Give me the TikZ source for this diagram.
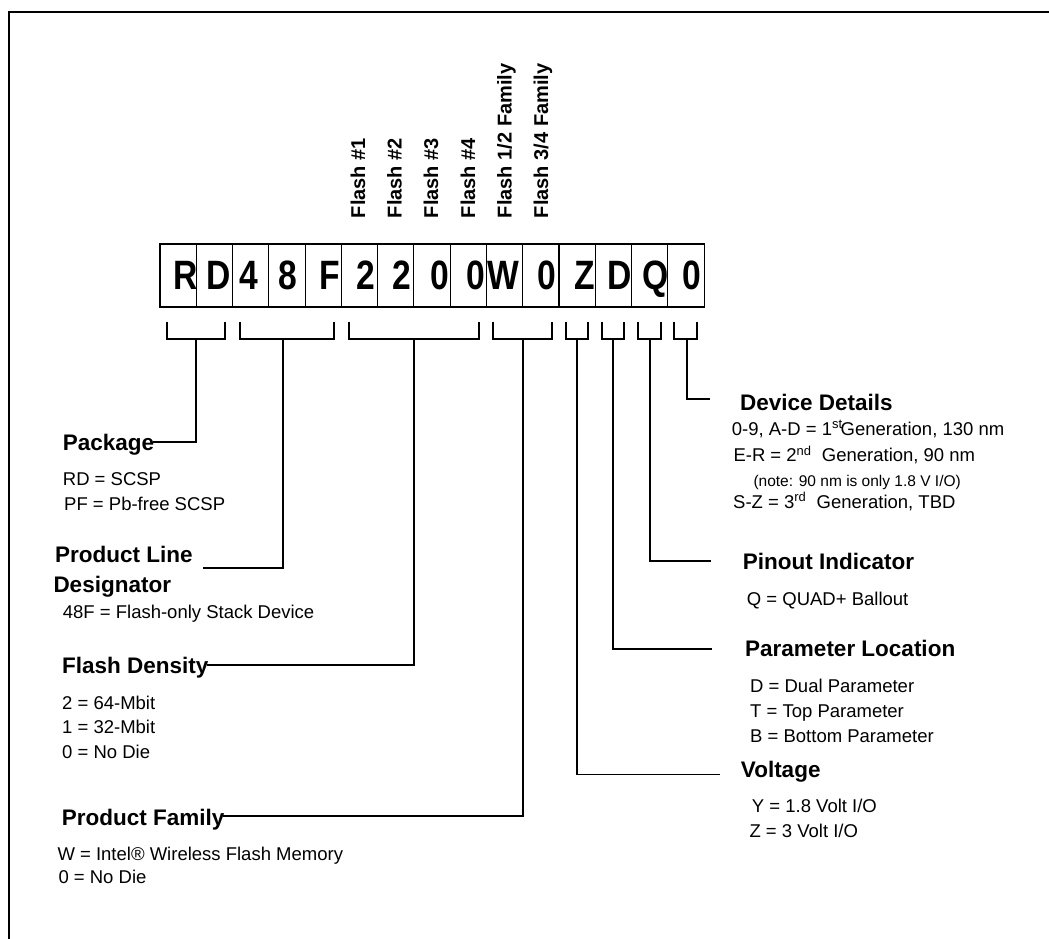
\documentclass[tikz,border=0pt]{standalone}
\usepackage{fontspec}
\setmainfont{Liberation Sans}
\begin{document}
\begin{tikzpicture}[x=1pt,y=-1pt,
  cell/.style={draw,line width=1.1pt,minimum width=36.27pt,minimum height=63pt,inner sep=0pt},
  ltr/.style={anchor=base,inner sep=0pt,font=\bfseries\fontsize{41}{45}\selectfont},
  vlab/.style={rotate=90,anchor=base west,inner sep=0pt,font=\bfseries\fontsize{20}{24}\selectfont},
  hd/.style={anchor=base west,inner sep=0pt,font=\bfseries\fontsize{22.5}{27}\selectfont},
  bd/.style={anchor=base west,inner sep=0pt,font=\fontsize{18.5}{22}\selectfont},
  sm/.style={anchor=base west,inner sep=0pt,font=\fontsize{15.5}{19}\selectfont},
  brk/.style={line width=1.8pt},
  con/.style={line width=1.8pt}]
\useasboundingbox (0,0) rectangle (1049,938);
% frame
\draw[line width=2.5pt] (9,940) -- (9,12) -- (1051,12);
% cells
\foreach \i in {0,...,14}
  \node[cell] (c\i) at ({160+36.27*(\i+0.5)},275.5) {};
\foreach \ch/\f [count=\i from 0] in {R/0.705,D/0.61,4/0.45,8/0.535,F/0.685,2/0.675,2/0.68,0/0.725,0/0.705,W/0.46,0/0.675,Z/0.71,D/0.675,Q/0.66,0/0.655}
  \node[ltr] (l\i) at ({160+36.27*(\i+\f)},289) {\scalebox{0.82}[1]{\ch}};
% rotated labels
\node[vlab] (f1) at (365,218.3) {Flash \#1};
\node[vlab] (f2) at (401.5,218.3) {Flash \#2};
\node[vlab] (f3) at (438,218.3) {Flash \#3};
\node[vlab] (f4) at (475,218.3) {Flash \#4};
\node[vlab] (f5) at (511.5,218.3) {Flash 1/2 Family};
\node[vlab] (f6) at (548,218.3) {Flash 3/4 Family};
% brackets
\foreach \xl/\xr/\xs/\n in {166.7/225.3/196/1,240/334/283.3/2,348.7/479/414/3,493.3/551.7/523.3/4,566/587.7/576.7/5,602/624/613/6,638.3/660.7/650/7,674.3/696.7/686.7/8}{
  \draw[brk] (\xl,321.7) -- (\xl,339) -- (\xr,339) -- (\xr,321.7);
  \coordinate (s\n) at (\xs,339);
}
% left headings
\node[hd] (pkg) at (62.7,450) {Package};
\node[bd] (pkg1) at (62.7,485) {RD = SCSP};
\node[bd] (pkg2) at (64,510) {PF = Pb-free SCSP};
\node[hd] (pl) at (55,562.7) {Product Line};
\node[hd] (pl2) at (53.3,592.7) {Designator};
\node[bd] (pl3) at (62.7,618) {48F = Flash-only Stack Device};
\node[hd] (fd) at (62,673) {Flash Density};
\node[bd] (fd1) at (62,709) {2 = 64-Mbit};
\node[bd] (fd2) at (62,733.5) {1 = 32-Mbit};
\node[bd] (fd3) at (62,758) {0 = No Die};
\node[hd] (pf) at (61.7,825) {Product Family};
\node[bd] (pf1) at (57.3,860) {W = Intel® Wireless Flash Memory};
\node[bd] (pf2) at (58.3,883.3) {0 = No Die};
% right headings
\node[hd] (dd) at (740,410) {Device Details};
\node[bd] (dd1) at (731.7,435) {0-9, A-D = 1\textsuperscript{st}\kern-2pt Generation, 130 nm};
\node[bd] (dd2) at (733.3,461.7) {E-R = 2\textsuperscript{nd}\ \ Generation, 90 nm};
\node[sm] (dd3) at (753.3,486) {(note: 90 nm is only 1.8 V I/O)};
\node[bd] (dd4) at (733,508) {S-Z = 3\textsuperscript{rd}\ \ Generation, TBD};
\node[hd] (pi) at (742.7,569.5) {Pinout Indicator};
\node[bd] (pi1) at (746.7,605) {Q = QUAD+ Ballout};
\node[hd] (pa) at (745,656.7) {Parameter Location};
\node[bd] (pa1) at (750,692.7) {D = Dual Parameter};
\node[bd] (pa2) at (750,717.7) {T = Top Parameter};
\node[bd] (pa3) at (750,742.7) {B = Bottom Parameter};
\node[hd] (vo) at (740.7,777.3) {Voltage};
\node[bd] (vo1) at (751.7,812.7) {Y = 1.8 Volt I/O};
\node[bd] (vo2) at (749.3,837.3) {Z = 3 Volt I/O};
% connector ends
\coordinate (e1) at (153,441.7);
\coordinate (e2) at (203,568.3);
\coordinate (e3) at (207,665);
\coordinate (e4) at (223,815.7);
\coordinate (e5) at (720,774.5);
\coordinate (e6) at (711.7,649.3);
\coordinate (e7) at (711,561);
\coordinate (e8) at (710,399);
\foreach \n in {1,...,8}
  \draw[con] (s\n) |- (e\n);
\end{tikzpicture}
\end{document}
